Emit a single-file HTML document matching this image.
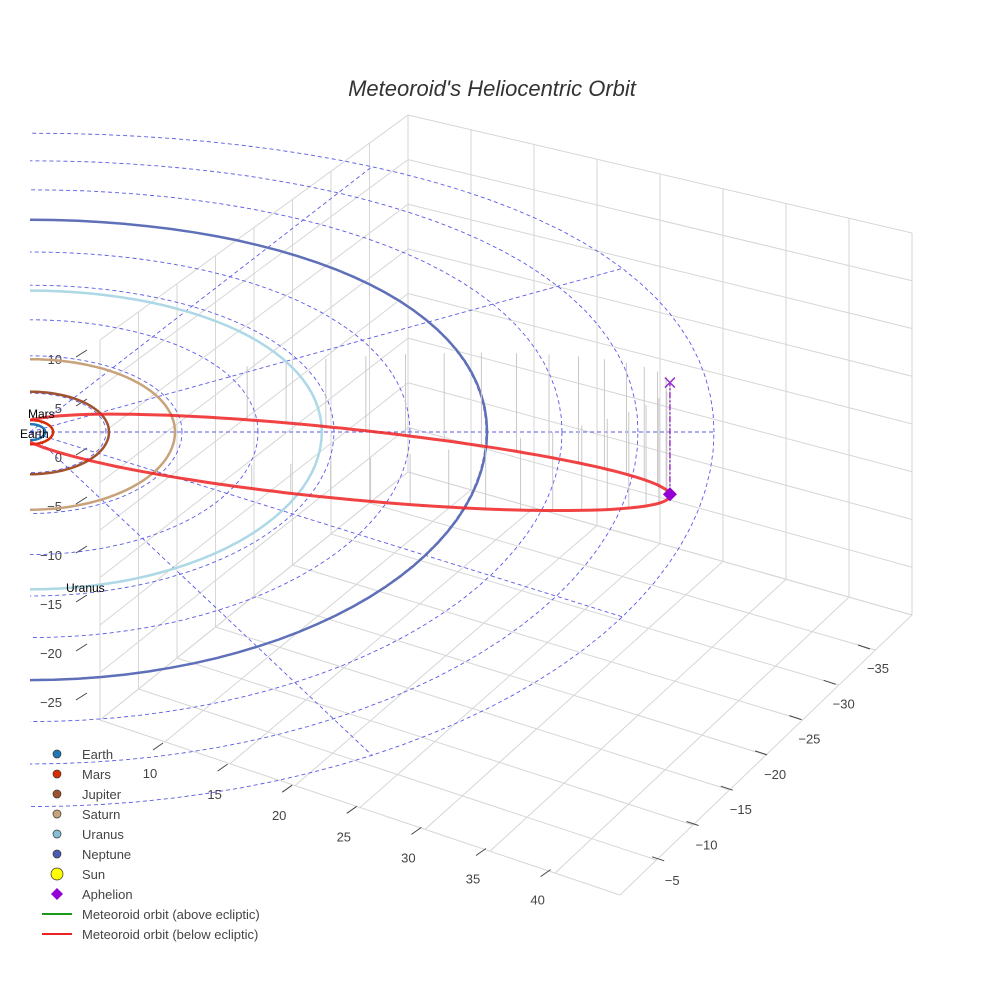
<!DOCTYPE html>
<html><head><meta charset="utf-8"><style>
html,body{margin:0;padding:0;background:#fff;}
svg{display:block;font-family:"Liberation Sans",sans-serif;}
</style></head><body>
<svg id="chart" width="984" height="984" viewBox="0 0 984 984">
<defs><clipPath id="clipL"><rect x="30" y="0" width="954" height="984"/></clipPath></defs>
<rect width="984" height="984" fill="#fff"/>
<text x="492" y="96" text-anchor="middle" font-size="22" font-style="italic" fill="#333">Meteoroid's Heliocentric Orbit</text>
<g id="box"></g>
<g id="ticks"></g>
<g id="plot" clip-path="url(#clipL)"></g>
<g id="legend"></g>
</svg>
<script>
// ---- data ----
var planetNames = ["Earth","Mars","Jupiter","Saturn","Uranus","Neptune"];
var planetRadii = [1.0,1.52,5.2,9.54,19.2,30.07];
var planetColors = ["#1f77b4","#d62e00","#a0522d","#c8a27a","#add8e6","#5f70b8"];
var planetAngles = [180,150,200,210,265,120];
var gridRadii = [5,10,15,20,25,30,35,40,45];
var gridAngles = [-60,-30,0,30,60,95];
var meteoroidPerihelion = [-0.98,-0.15,0.27];
var meteoroidAphelion = [42.1,6.4,-11.4];
var zTicks = [10,5,0,-5,-10,-15,-20,-25];
var xTicks = [10,15,20,25,30,35,40];
var yTicks = [-35,-30,-25,-20,-15,-10,-5];

var NS="http://www.w3.org/2000/svg";
function mk(tag,attrs,parent){var e=document.createElementNS(NS,tag);for(var k in attrs)e.setAttribute(k,attrs[k]);parent.appendChild(e);return e;}
// projection (ecliptic X,Y,Z -> screen)
function px(X,Y,Z){return 30+15.2*X;}
function sy(Y){return Y>=0?(7.9-0.028*Y):(8.1-0.005*Y);}
function py(X,Y,Z){return 432-Y*sy(Y)-9.8*(Z||0);}
function pathFrom(pts){return pts.map(function(p,i){return (i?"L":"M")+px(p[0],p[1],p[2]).toFixed(1)+","+py(p[0],p[1],p[2]).toFixed(1);}).join("");}
function circlePts(r){var a=[];for(var t=0;t<=360;t+=3){var q=t*Math.PI/180;a.push([r*Math.cos(q),r*Math.sin(q),0]);}return a;}

// ---- box ----
var box=document.getElementById("box");
var B=[408,115],Bb=[408,472],R=[912,233],Rb=[912,615],F=[620,895],L=[100,720],Lt=[100,340];
function lerp(a,b,t){return [a[0]+(b[0]-a[0])*t,a[1]+(b[1]-a[1])*t];}
function seg(a,b,c){var l=mk("line",{x1:a[0],y1:a[1],x2:b[0],y2:b[1],stroke:c||"#d6d6d6","stroke-width":1},box);

}
var i,t;
for(i=0;i<=8;i++){t=i/8;seg(lerp(B,Bb,t),lerp(R,Rb,t));}
for(i=0;i<=8;i++){t=i/8;seg(lerp(B,R,t),lerp(Bb,Rb,t));}
for(i=0;i<=8;i++){t=i/8;seg(lerp(B,Lt,t),lerp(Bb,L,t));}
for(i=0;i<=8;i++){t=i/8;seg(lerp(B,Bb,t),lerp(Lt,L,t));}
for(i=0;i<=8;i++){t=i/8;seg(lerp(Bb,Rb,t),lerp(L,F,t));}
for(i=0;i<=8;i++){t=i/8;seg(lerp(Bb,L,t),lerp(Rb,F,t));}

// ---- ticks ----
var tk=document.getElementById("ticks");
zTicks.forEach(function(v){var y=458-v*9.8;
 var tx=mk("text",{x:62,y:y+4,"text-anchor":"end","font-size":13,fill:"#444"},tk);tx.textContent=String(v).replace("-","\u2212");
 
 
 mk("line",{x1:76,y1:y-3,x2:87,y2:y-10,stroke:"#444","stroke-width":1},tk);});
xTicks.forEach(function(v){var k=(v-10)/5;var x=150+64.6*k,y=773+21.1*k;
 var tx=mk("text",{x:x,y:y+5,"text-anchor":"middle","font-size":13,fill:"#444"},tk);tx.textContent=v;
 
 
 mk("line",{x1:x+3,y1:y-23,x2:x+13,y2:y-30,stroke:"#444","stroke-width":1},tk);});
yTicks.forEach(function(v){var k=(v+35)/5;var x=878-34.3*k,y=668+35.3*k;
 var tx=mk("text",{x:x,y:y+5,"text-anchor":"middle","font-size":13,fill:"#444"},tk);tx.textContent=String(v).replace("-","\u2212");
 
 
 mk("line",{x1:x-20,y1:y-23,x2:x-8,y2:y-19,stroke:"#444","stroke-width":1},tk);});

// ---- plot ----
var pl=document.getElementById("plot");
gridRadii.forEach(function(r){var p=mk("path",{d:pathFrom(circlePts(r)),fill:"none",stroke:"#5a5ae6","stroke-width":0.9,"stroke-dasharray":"4,3"},pl);
 
 });
gridAngles.forEach(function(a){var q=a*Math.PI/180,r=45;var p=mk("path",{d:pathFrom([[0,0,0],[r*Math.cos(q),r*Math.sin(q),0]]),fill:"none",stroke:"#5a5ae6","stroke-width":0.9,"stroke-dasharray":"4,3"},pl);
 
 });
planetRadii.forEach(function(r,k){var p=mk("path",{d:pathFrom(circlePts(r)),fill:"none",stroke:planetColors[k],"stroke-width":2.5},pl);
 
 });
// meteoroid orbit
var P=meteoroidPerihelion,A=meteoroidAphelion;
var C=[(P[0]+A[0])/2,(P[1]+A[1])/2,(P[2]+A[2])/2];
var d=[A[0]-P[0],A[1]-P[1],A[2]-P[2]];var dl=Math.sqrt(d[0]*d[0]+d[1]*d[1]+d[2]*d[2]);
var a=dl/2,u=[d[0]/dl,d[1]/dl,d[2]/dl];
var q0=Math.sqrt(P[0]*P[0]+P[1]*P[1]+P[2]*P[2]),Q0=Math.sqrt(A[0]*A[0]+A[1]*A[1]+A[2]*A[2]);
var b=Math.sqrt(q0*Q0),v=[-0.107,0.968,-0.215];
function orb(th){var c=Math.cos(th),s=Math.sin(th);return [C[0]+a*c*u[0]+b*s*v[0],C[1]+a*c*u[1]+b*s*v[1],C[2]+a*c*u[2]+b*s*v[2]];}
var op=[];for(t=0;t<=360;t+=2)op.push(orb(t*Math.PI/180));
for(t=0;t<360;t+=7){var o=orb(t*Math.PI/180);if(o[2]<0&&o[0]>14){
 var st=mk("line",{x1:px(o[0]),y1:py(o[0],o[1],o[2]),x2:px(o[0]),y2:py(o[0],o[1],0),stroke:"#c8c8c8","stroke-width":1},pl);
 
 }}
var mo=mk("path",{d:pathFrom(op),fill:"none",stroke:"#ee2222","stroke-width":3,"stroke-opacity":0.85},pl);


// aphelion
var ax=px(A[0]),ay=py(A[0],A[1],A[2]),ey=py(A[0],A[1],0);
var al=mk("line",{x1:ax,y1:ay,x2:ax,y2:ey,stroke:"#9933cc","stroke-width":1.5,"stroke-dasharray":"6,2,2,2"},pl);


var am=mk("path",{d:"M"+ax+","+(ay-7)+"L"+(ax+7)+","+ay+"L"+ax+","+(ay+7)+"L"+(ax-7)+","+ay+"Z",fill:"#9400d3"},pl);


var xm=mk("path",{d:"M"+(ax-5)+","+(ey-5)+"L"+(ax+5)+","+(ey+5)+"M"+(ax+5)+","+(ey-5)+"L"+(ax-5)+","+(ey+5),stroke:"#9933cc","stroke-width":1.5},pl);


// planets markers
[0,1,4].forEach(function(k){var q=planetAngles[k]*Math.PI/180,r=planetRadii[k];
 var X=r*Math.cos(q),Y=r*Math.sin(q);
 var c=mk("circle",{cx:px(X),cy:py(X,Y,0),r:3.5,fill:planetColors[k],stroke:"#333","stroke-width":0.5},pl);
 
 });
var lbls=[["Earth",20,438],["Mars",28,418],["Uranus",66,592]];
var svg=document.getElementById("chart");
lbls.forEach(function(e){var tx=mk("text",{x:e[1],y:e[2],"font-size":12,fill:"#000"},svg);tx.textContent=e[0];
 
 });

// ---- legend ----
var lg=document.getElementById("legend");
var legNames=["Earth","Mars","Jupiter","Saturn","Uranus","Neptune","Sun","Aphelion","Meteoroid orbit (above ecliptic)","Meteoroid orbit (below ecliptic)"];
var legColors=["#1f77b4","#d62e00","#a0522d","#c8a27a","#87bfd6","#4a5bb0","#ffff00","#9400d3","#1a9a1a","#ee2222"];
legNames.forEach(function(n,k){var y=754+20*k;var g=mk("g",{},lg);
 
 
 if(k<6)mk("circle",{cx:57,cy:y,r:4,fill:legColors[k],stroke:"#333","stroke-width":0.7},g);
 else if(k==6)mk("circle",{cx:57,cy:y,r:6,fill:legColors[k],stroke:"#333","stroke-width":0.7},g);
 else if(k==7)mk("path",{d:"M57,"+(y-6)+"L63,"+y+"L57,"+(y+6)+"L51,"+y+"Z",fill:legColors[k]},g);
 else mk("line",{x1:42,y1:y,x2:72,y2:y,stroke:legColors[k],"stroke-width":2},g);
 var tx=mk("text",{x:82,y:y+5,"font-size":13,fill:"#444"},g);tx.textContent=n;});
</script>
</body></html>
